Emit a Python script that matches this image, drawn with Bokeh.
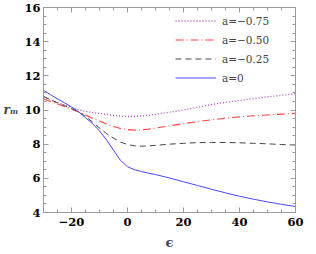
from bokeh.plotting import figure
from bokeh.models import (Legend, LegendItem, LinearAxis, FixedTicker, Range1d)
from bokeh.embed import file_html
from bokeh.resources import INLINE

eps = [-30, -27.5, -25, -22.5, -20, -17.5, -15, -12.5, -10, -7.5, -5, -2.5, 0,
       2.5, 5, 7.5, 10, 15, 20, 25, 30, 35, 40, 45, 50, 55, 60]

r_a0 = [11.15, 10.9, 10.65, 10.42, 10.18, 9.9, 9.55, 9.2, 8.78, 8.25, 7.65, 7.05, 6.68,
        6.5, 6.4, 6.3, 6.22, 6.02, 5.8, 5.58, 5.36, 5.15, 4.95, 4.78, 4.62, 4.48, 4.35]
r_a025 = [10.8, 10.6, 10.42, 10.25, 10.08, 9.88, 9.62, 9.3, 8.95, 8.62, 8.35, 8.12, 7.98,
          7.9, 7.88, 7.9, 7.93, 8.0, 8.05, 8.09, 8.1, 8.1, 8.08, 8.05, 8.02, 7.98, 7.95]
r_a050 = [10.65, 10.5, 10.35, 10.2, 10.05, 9.88, 9.7, 9.52, 9.35, 9.18, 9.03, 8.92, 8.85,
          8.82, 8.83, 8.88, 8.94, 9.07, 9.2, 9.32, 9.42, 9.52, 9.6, 9.66, 9.71, 9.76, 9.8]
r_a075 = [10.72, 10.58, 10.44, 10.3, 10.15, 10.02, 9.92, 9.85, 9.8, 9.75, 9.68, 9.64, 9.62,
          9.62, 9.65, 9.7, 9.75, 9.87, 10.0, 10.15, 10.32, 10.45, 10.56, 10.67, 10.77, 10.86, 10.95]

x_major = [-20, 0, 20, 40, 60]
x_minor = list(range(-30, 61, 5))
y_major = [4, 6, 8, 10, 12, 14, 16]
y_minor = [4 + 0.5 * i for i in range(25)]
labels = ["a=\u22120.75", "a=\u22120.50", "a=\u22120.25", "a=0"]

FONT = "DejaVu Serif"
AX = "#9a9a9a"

p = figure(width=316, height=254, output_backend="svg", toolbar_location=None,
           x_range=Range1d(-30, 60), y_range=Range1d(4, 16),
           min_border_left=39, min_border_right=21, min_border_top=7, min_border_bottom=42)
p.xgrid.visible = False
p.ygrid.visible = False
p.outline_line_color = AX
p.background_fill_color = "white"

def style(ax, ticks, minors, show):
    ax.ticker = FixedTicker(ticks=ticks, minor_ticks=minors)
    ax.axis_line_color = AX
    ax.major_tick_line_color = AX
    ax.minor_tick_line_color = AX
    ax.major_tick_in = 5
    ax.major_tick_out = 0
    ax.minor_tick_in = 3
    ax.minor_tick_out = 0
    ax.major_label_text_font = FONT
    ax.major_label_text_font_style = "bold"
    ax.major_label_text_color = "black"
    ax.major_label_text_font_size = "11.5px"
    if not show:
        ax.major_label_overrides = {t: "" for t in ticks}
        ax.major_label_standoff = 0

style(p.xaxis[0], x_major, x_minor, True)
style(p.yaxis[0], y_major, y_minor, True)
p.xaxis[0].major_label_standoff = 5
p.yaxis[0].major_label_standoff = 3
p.xaxis[0].major_label_overrides = {-20: "\u221220"}

p.xaxis[0].axis_label = "\u03f5"
p.xaxis[0].axis_label_text_font = FONT
p.xaxis[0].axis_label_text_font_style = "bold"
p.xaxis[0].axis_label_text_font_size = "13px"
p.xaxis[0].axis_label_standoff = 6
p.yaxis[0].axis_label = "r\u2098"
p.yaxis[0].axis_label_text_font = FONT
p.yaxis[0].axis_label_text_font_style = "bold italic"
p.yaxis[0].axis_label_text_font_size = "12px"
p.yaxis[0].axis_label_standoff = 3
p.yaxis[0].axis_label_orientation = "horizontal"

top = LinearAxis()
style(top, x_major, x_minor, False)
p.add_layout(top, "above")
right = LinearAxis()
style(right, y_major, y_minor, False)
p.add_layout(right, "right")

l1 = p.line(eps, r_a075, line_color="#b444c8", line_width=1.3, line_dash="1 2")
l2 = p.line(eps, r_a050, line_color="#ff4444", line_width=1.1, line_dash="8 3 1 3")
l3 = p.line(eps, r_a025, line_color="#444444", line_width=1.0, line_dash="6 4")
l4 = p.line(eps, r_a0, line_color="#4848ff", line_width=1.0)

legend = Legend(items=[LegendItem(label=labels[0], renderers=[l1]),
                       LegendItem(label=labels[1], renderers=[l2]),
                       LegendItem(label=labels[2], renderers=[l3]),
                       LegendItem(label=labels[3], renderers=[l4])],
                location=(132, 125), padding=0, margin=0, spacing=0,
                glyph_width=41, glyph_height=19, label_height=19, label_standoff=6,
                label_text_font=FONT, label_text_font_size="10.5px",
                border_line_color=None, background_fill_alpha=0)
p.add_layout(legend, "center")

open("out.html", "w").write(file_html(p, INLINE))
